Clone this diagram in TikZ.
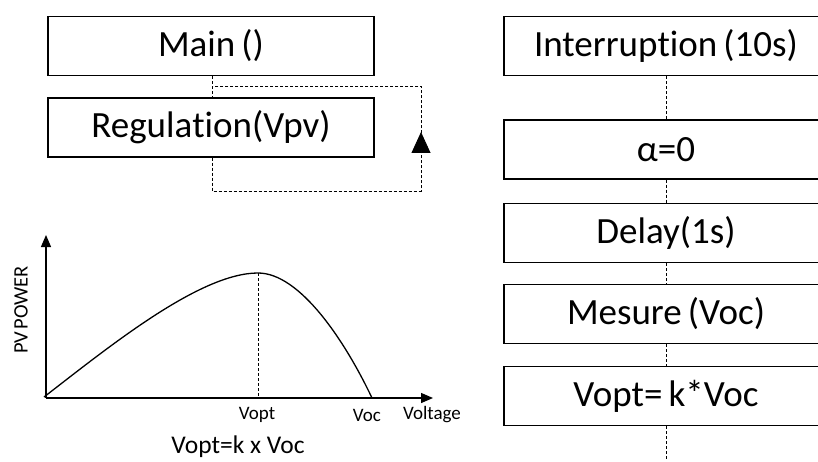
\documentclass[tikz,border=0pt]{standalone}
\usepackage{fontspec}
\setmainfont[Ligatures={NoCommon,NoContextual},Contextuals=NoAlternate]{Carlito}
\usetikzlibrary{arrows.meta}
\begin{document}
\begin{tikzpicture}[x=1pt,y=1pt,
  box/.style={draw=black, line width=1.3pt, minimum width=326pt, minimum height=59pt, inner sep=0pt, font=\fontsize{37}{42}\selectfont},
  rbox/.style={box, minimum width=324pt},
  dline/.style={draw=black, line width=0.9pt, dash pattern=on 3pt off 2pt},
  axis/.style={draw=black, line width=1.3pt, -{Triangle[length=12pt,width=10pt]}},
  lbl/.style={font=\fontsize{19}{22}\selectfont, inner sep=0pt}]
\useasboundingbox (0,0) rectangle (818,461);
\clip (0,0) rectangle (818,461);
% left flow
\node[box] (main) at (211,415) {Main\,()};
\node[box] (reg) at (211,333.5) {Regula\kern0pt tion(Vpv)};
\coordinate (lq) at (212,375);
\coordinate (lp) at (421,375);
\coordinate (lb) at (421,270);
\coordinate (ab) at (421,312);
\coordinate (at) at (421,329);
\draw[dline] (main.south -| lq) -- (reg.north -| lq);
\draw[dline] (reg.south -| lq) |- (lb) -- (lp) -- (lq);
\draw[line width=0.9pt, -{Triangle[length=21pt,width=19pt]}] (ab) -- (at);
% right flow
\node[rbox] (b1) at (666,415) {Interrup\kern0pt tion\,(10s)};
\node[rbox] (b2) at (666,311.5) {α=0};
\node[rbox] (b3) at (666,228) {Delay(1s)};
\node[rbox] (b4) at (666,147) {Mesure\,(Voc)};
\node[rbox] (b5) at (666,65) {Vopt=\,k*Voc};
\coordinate (cx) at (666,0);
\draw[dline] (b1.south) -- (b2.north);
\draw[dline] (b2.south) -- (b3.north);
\draw[dline] (b3.south) -- (b4.north);
\draw[dline] (b4.south) -- (b5.north);
\draw[dline] (b5.south) -- (cx);
% graph
\coordinate (o) at (46,63);
\coordinate (ytip) at (46,226);
\coordinate (xtip) at (433,63);
\coordinate (pk) at (258,188);
\coordinate (vopt) at (258,63);
\coordinate (voc) at (372,63);
\draw[axis] (o) -- (ytip);
\draw[axis] (o) -- (xtip);
\draw[line width=1.3pt] (44,64) .. controls (110,115) and (200,188) .. (pk)
  .. controls (300,188) and (345,120) .. (voc);
\draw[dline] (pk) -- (vopt);
\node[lbl, rotate=90, font=\fontsize{20.5}{24}\selectfont] (pv) at (21,151) {PV\hspace{0.1em}POWER};
\node[lbl] (lvopt) at (257,46) {Vopt};
\node[lbl] (lvoc) at (367,46) {Voc};
\node[lbl] (lvolt) at (432,46) {Voltage};
\node[font=\fontsize{25.5}{29}\selectfont, inner sep=0pt] (form) at (238,14) {Vopt=k x Voc};
\end{tikzpicture}
\end{document}
